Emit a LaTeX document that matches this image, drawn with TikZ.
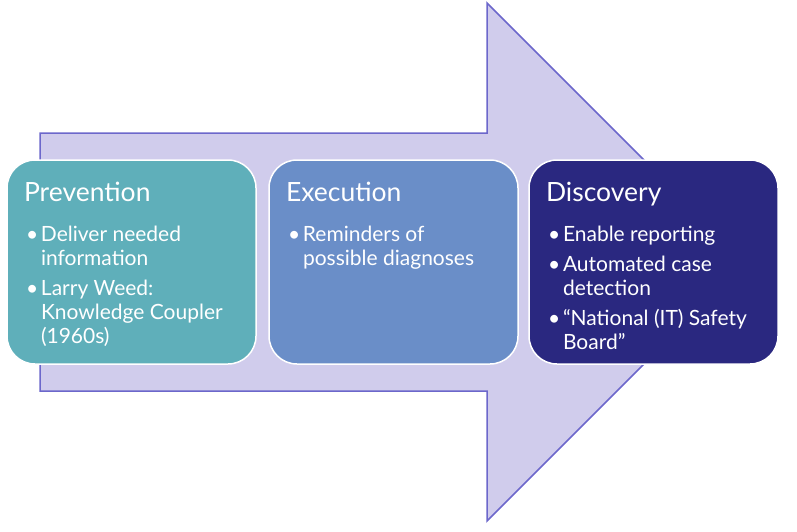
\documentclass[tikz,border=0pt]{standalone}
\usepackage{fontspec}
\setmainfont{Lato}
\usetikzlibrary{positioning}

\definecolor{arrowfill}{HTML}{D0CCEC}
\definecolor{arrowline}{HTML}{6C67CB}
\definecolor{prevfill}{HTML}{5FAFBA}
\definecolor{execfill}{HTML}{6A8EC8}
\definecolor{discfill}{HTML}{2A2880}

\newcommand{\stagetitle}[1]{{\fontsize{26.5}{26.5}\selectfont #1\par}\vspace{16pt}}
\newcommand{\bulletitem}[1]{\noindent\hangindent=17pt\hangafter=1\makebox[17pt][l]{\hspace{2pt}\textbullet}#1\par\vspace{6pt}}
\newcommand{\stagetext}[1]{\parbox[c][160pt][t]{215pt}{\fontsize{21}{24}\selectfont #1}}

\begin{document}
\begin{tikzpicture}
  [x=1pt,y=-1pt,
   bigarrow/.style={fill=arrowfill,draw=arrowline,line width=1.5pt,line join=miter},
   stage/.style={rectangle,rounded corners=28pt,draw=white,line width=1.5pt,text=white,
     inner xsep=17pt,inner ysep=22pt,outer sep=0pt,minimum width=249pt,minimum height=204pt}]
  \useasboundingbox (0,0) rectangle (797,532);
  \draw[bigarrow] (40,133) -- (487,133) -- (487,3) -- (746,262) -- (487,521) -- (487,391) -- (40,391) -- cycle;
  \node[stage,fill=prevfill,anchor=north west] (prevention) at (7,160)
    {\stagetext{\stagetitle{Prevention}\bulletitem{Deliver needed\\information}\bulletitem{Larry Weed:\\Knowledge Coupler\\(1960s)}}};
  \node[stage,fill=execfill] (execution) [right=13pt of prevention]
    {\stagetext{\stagetitle{Execution}\bulletitem{Reminders of\\possible diagnoses}}};
  \node[stage,fill=discfill] (discovery) [right=11pt of execution]
    {\stagetext{\stagetitle{Discovery}\bulletitem{Enable reporting}\bulletitem{Automated case\\detection}\bulletitem{``National (IT) Safety\\Board''}}};
\end{tikzpicture}
\end{document}
